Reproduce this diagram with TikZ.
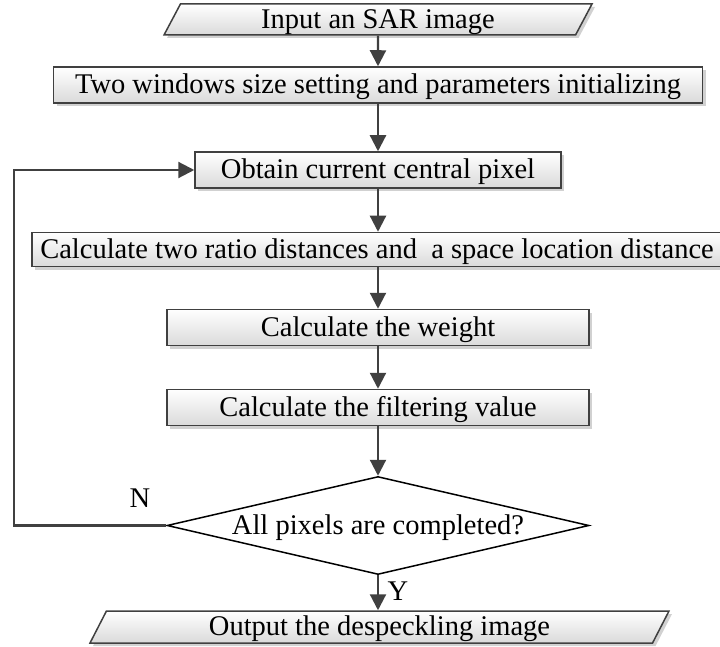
\documentclass[tikz,border=0pt]{standalone}
\usepackage{fontspec}
\setmainfont{Liberation Serif}
\usetikzlibrary{arrows.meta,shapes.geometric,shadows}
\tikzset{>={Triangle[width=16pt,length=16pt]}}
\definecolor{linegray}{HTML}{404040}
\definecolor{boxgray}{HTML}{DADADA}
\tikzset{
  stepbox/.style={draw=linegray, line width=1.5pt, top color=white,
    bottom color=boxgray, minimum height=36pt, inner sep=0pt,
    text height=0.8em, text depth=0.2em,
    drop shadow={shadow xshift=3pt, shadow yshift=-3pt, fill=black, opacity=0.18}},
  iobox/.style={stepbox, trapezium, trapezium left angle=60,
    trapezium right angle=120, trapezium stretches body},
  testbox/.style={diamond, draw=black, line width=1.5pt, fill=white,
    aspect=4.3, inner sep=0pt, text height=0.8em, text depth=0.2em},
  flow/.style={->, draw=linegray, line width=2.2pt}
}

\begin{document}
\begin{tikzpicture}[x=1pt, y=-1pt]
  \fontsize{28.5}{32}\selectfont

  \useasboundingbox (0,0) rectangle (720,647); %% page size

  %% main column
  \node[iobox, minimum width=428pt, minimum height=31pt] (input) at (378,19.5) {Input an SAR image};
  \node[stepbox, minimum width=649pt] (init) at (378,85) {Two windows size setting and parameters initializing};
  \node[stepbox, minimum width=366pt] (obtain) at (378,170) {Obtain current central pixel};
  \node[stepbox, minimum width=690pt, minimum height=34pt] (ratio) at (377,249.5) {Calculate two ratio distances and~ a space location distance};
  \node[stepbox, minimum width=422pt] (weight) at (378,327.5) {Calculate the weight};
  \node[stepbox, minimum width=422pt] (filter) at (378,407.5) {Calculate the filtering value};
  \node[testbox, minimum width=422pt, minimum height=98pt] (test) at (378,525.5) {All pixels are completed?};
  \node[iobox, minimum width=579pt, minimum height=32pt] (output) at (379.5,627) {Output the despeckling image};

  %% branch labels
  \node (nolabel) at (140,498) {N};
  \node (yeslabel) at (398,591) {Y};
  \coordinate (loop) at (14,170);

  \draw[flow] (input) -- (input |- init.north);
  \draw[flow] (init) -- (init |- obtain.north);
  \draw[flow] (obtain) -- (obtain |- ratio.north);
  \draw[flow] (obtain |- ratio.south) -- (weight);
  \draw[flow] (weight) -- (filter);
  \draw[flow] (filter) -- (test.north);
  \draw[flow] (test.south) -- (test.south |- output.north);
  \draw[flow] (test.west) -| (loop) -- (obtain.west);

\end{tikzpicture}
\end{document}
